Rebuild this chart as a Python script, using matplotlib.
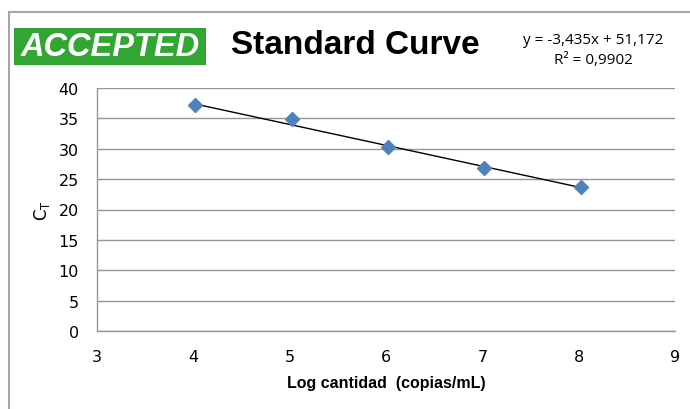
import matplotlib
matplotlib.use("Agg")
import matplotlib.pyplot as plt
from matplotlib.lines import Line2D
from matplotlib.patches import Rectangle
import numpy as np

# Data
log_qty = [4.02, 5.02, 6.02, 7.02, 8.02]
ct_values = [37.2, 34.9, 30.3, 26.8, 23.7]
slope = -3.435
intercept = 51.172
r_squared = 0.9902
x_ticks = [3, 4, 5, 6, 7, 8, 9]
y_ticks = [0, 5, 10, 15, 20, 25, 30, 35, 40]

W, H = 690, 410
fig = plt.figure(figsize=(W / 100, H / 100), dpi=100)

# outer chart border (left & top visible)
fig.add_artist(Line2D([9 / W, 9 / W], [0, 1 - 13 / H], transform=fig.transFigure,
                      color="#a6a6a6", lw=1.5))
fig.add_artist(Line2D([9 / W, 1], [1 - 13 / H, 1 - 13 / H], transform=fig.transFigure,
                      color="#a6a6a6", lw=1.5))

ax = fig.add_axes([97 / W, (H - 332) / H, 578 / W, 243 / H])
ax.set_xlim(3, 9)
ax.set_ylim(0, 40)
ax.set_xticks(x_ticks)
ax.set_yticks(y_ticks)
ax.yaxis.grid(True, color="#969696", lw=1)
ax.set_axisbelow(True)
for s in ["top", "right"]:
    ax.spines[s].set_visible(False)
for s in ["left", "bottom"]:
    ax.spines[s].set_color("#969696")
    ax.spines[s].set_linewidth(1)
ax.tick_params(axis="both", length=0, labelsize=11.5, colors="#000000")
ax.tick_params(axis="y", pad=13)
ax.tick_params(axis="x", pad=13)

# trendline
xs = np.array([log_qty[0], log_qty[-1]])
ax.plot(xs, slope * xs + intercept, color="#000000", lw=1, zorder=2)
# points
ax.plot(log_qty, ct_values, linestyle="none", marker="D", markersize=7,
        color="#4f81bd", zorder=3)

ax.set_xlabel("Log cantidad  (copias/mL)", fontsize=11.5, fontweight="bold",
              family="Liberation Sans", labelpad=8)
ax.set_ylabel(r"$\mathregular{C_T}$", fontsize=12, labelpad=5)

# ACCEPTED badge
fig.add_artist(Rectangle((14 / W, 1 - 66 / H), 192 / W, 37 / H, transform=fig.transFigure,
                         facecolor="#33a532", edgecolor="none"))
fig.text(110 / W, 1 - 47.5 / H, "ACCEPTED", color="white", fontsize=23.5, fontweight="bold",
         fontstyle="italic", family="Liberation Sans", ha="center", va="center")
fig.text(355 / W, 1 - 46 / H, "Standard Curve", color="black", fontsize=24,
         fontweight="bold", family="Liberation Sans", ha="center", va="center")

eq = "y = {:,.3f}x + {:,.3f}".format(slope, intercept).replace(".", ",")
r2 = "R² = {:.4f}".format(r_squared).replace(".", ",")
fig.text(593 / W, 1 - 40 / H, eq, fontsize=11, ha="center", va="center", family="Open Sans")
fig.text(593 / W, 1 - 61 / H, r2, fontsize=11, ha="center", va="center", family="Open Sans")

fig.savefig("out.png", dpi=100, facecolor="white")
